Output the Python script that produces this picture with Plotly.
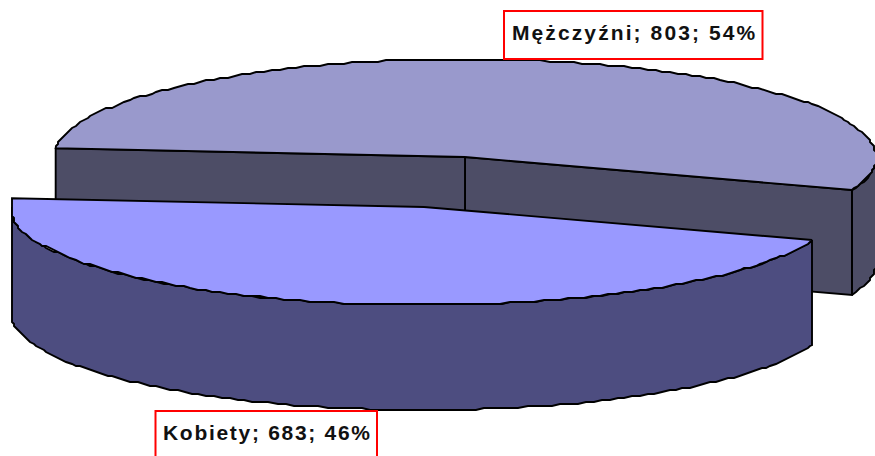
import numpy as np
import plotly.graph_objects as go

labels = ["Kobiety", "Mężczyźni"]
values = [683, 803]

# projection of the tilted, exploded pie (screen px)
START_DEG = 19.7
RY, DEPTH = 98, 105
GRID = 2.0  # coarse raster of the original metafile outline
CENTERS = {"Kobiety": (424, 207), "Mężczyźni": (465, 157)}
RX = {"Kobiety": 414, "Mężczyźni": 411}
XCLIP = {"Kobiety": (12, 812), "Mężczyźni": (0, 900)}
TOP = {"Kobiety": "#9999FF", "Mężczyźni": "#9999CC"}
SIDE = {"Kobiety": "#4D4D80", "Mężczyźni": "#4D4D66"}
EDGE = dict(color="black", width=1.9)

total = sum(values)
spans = [v / total * 360 for v in values]
a0 = START_DEG
a1 = a0 + spans[0]
a2 = a1 + spans[1]


def rim(name, start, stop, drop=0):
    cx, cy = CENTERS[name]
    n = max(int(abs(stop - start) / 1.2), 8)
    t = np.radians(np.linspace(start, stop, n))
    x = cx + RX[name] * np.cos(t)
    y = cy + RY * np.sin(t) + drop
    qx = np.round(x / GRID) * GRID
    qy = np.round(y / GRID) * GRID
    qx[[0, -1]] = x[[0, -1]]
    qy[[0, -1]] = y[[0, -1]]
    lo, hi = XCLIP[name]
    return np.clip(qx, lo, hi), qy


def poly(xs, ys, color):
    xs = list(xs) + [xs[0]]
    ys = list(ys) + [ys[0]]
    return go.Scatter(x=xs, y=ys, mode="lines", fill="toself", fillcolor=color,
                      line=EDGE, hoverinfo="skip", showlegend=False)


fig = go.Figure()

# back slice
name = "Mężczyźni"
mx, my = CENTERS[name]
rx_, ry_ = rim(name, a1, a2)
wx, wy = rim(name, 360, a2)
bx, by = rim(name, a2, 360, DEPTH)
fig.add_trace(poly(list(wx) + list(bx), list(wy) + list(by), SIDE[name]))
fig.add_trace(poly([rx_[-1], mx, mx, rx_[-1]], [ry_[-1], my, my + DEPTH, ry_[-1] + DEPTH], SIDE[name]))
fig.add_trace(poly([rx_[0], mx, mx, rx_[0]], [ry_[0], my, my + DEPTH, ry_[0] + DEPTH], SIDE[name]))
fig.add_trace(poly([mx] + list(rx_), [my] + list(ry_), TOP[name]))

# front slice
name = "Kobiety"
kx, ky = CENTERS[name]
wx, wy = rim(name, a0, 180)
bx, by = rim(name, 180, a0, DEPTH)
fig.add_trace(poly(list(wx) + list(bx), list(wy) + list(by), SIDE[name]))
tx, ty = rim(name, a0, a1)
fig.add_trace(poly([kx] + list(tx), [ky] + list(ty), TOP[name]))


def caption(i):
    return f"{labels[i]}; {values[i]}; {round(values[i] / total * 100)}%"


# label boxes: left, right, top, bottom, text centre x, text centre y, spacing
for i, (l, r, t, b, cx, cy, ls) in enumerate(
    [(155.5, 377, 411, 462, 267.5, 432.5, 1.7), (504, 762.5, 11, 59, 634.5, 32.5, 2.1)]
):
    fig.add_shape(type="rect", x0=l, x1=r, y0=t, y1=b, xref="x", yref="y",
                  fillcolor="white", line=dict(color="#FF0000", width=2), layer="above")
    fig.add_annotation(
        x=cx, y=cy, xref="x", yref="y", showarrow=False,
        text=f'<span style="letter-spacing:{ls}px">{caption(i)}</span>',
        font=dict(family="Liberation Sans", size=21, color="#111111", weight="bold"),
        xanchor="center", yanchor="middle",
    )

fig.update_layout(
    width=875, height=456, autosize=False,
    margin=dict(l=0, r=0, t=0, b=0),
    paper_bgcolor="white", plot_bgcolor="white",
    xaxis=dict(range=[0, 875], visible=False, fixedrange=True),
    yaxis=dict(range=[456, 0], visible=False, fixedrange=True),
)

fig.write_html("out.html", config={"displayModeBar": False},
               post_script="document.body.style.margin='0';document.body.style.overflow='hidden';")
